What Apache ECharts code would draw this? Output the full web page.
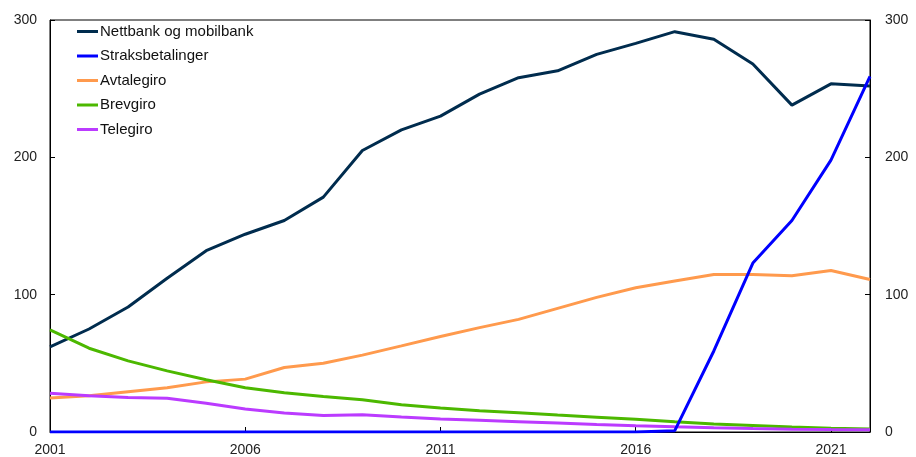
<!DOCTYPE html>
<html>
<head>
<meta charset="utf-8">
<script src="https://cdn.jsdelivr.net/npm/echarts@6/dist/echarts.min.js"></script>
<style>
  html, body { margin: 0; padding: 0; background: #fff; }
  #chart { width: 916px; height: 457px; }
</style>
</head>
<body>
<div id="chart"></div>
<script>
// years on the x axis
const years = ['2001', '2002', '2003', '2004', '2005', '2006', '2007', '2008', '2009', '2010', '2011',
  '2012', '2013', '2014', '2015', '2016', '2017', '2018', '2019', '2020', '2021', '2022'];
const yTicks = [0, 100, 200, 300];

// series values
const nettbank = [62, 75, 91, 112, 132, 144, 154, 171, 205, 220, 230, 246, 258, 263, 275, 283, 291.5, 286, 268, 238, 253.5, 252];
const straks = [0, 0, 0, 0, 0, 0, 0, 0, 0, 0, 0, 0, 0, 0, 0, 0, 1, 59, 123, 154, 198, 259];
const avtalegiro = [24.7, 26.4, 29.3, 32.2, 36.5, 38.5, 47, 50, 56, 62.7, 69.5, 76, 82, 90, 98, 105, 110, 114.7, 114.7, 113.8, 117.6, 111];
const brevgiro = [74.3, 61, 51.8, 44.5, 38, 32.2, 28.6, 25.9, 23.5, 19.8, 17.4, 15.5, 14, 12.3, 10.8, 9.2, 7.4, 5.8, 4.8, 3.6, 2.8, 2.2];
const telegiro = [28.3, 26.4, 25.2, 24.5, 21, 16.7, 13.8, 12.1, 12.6, 10.9, 9.4, 8.5, 7.5, 6.5, 5.5, 4.6, 3.8, 3.1, 2.5, 2, 1.8, 1.7];

const names = ['Nettbank og mobilbank', 'Straksbetalinger', 'Avtalegiro', 'Brevgiro', 'Telegiro'];
const colors = ['#002C4E', '#0000FF', '#FF9A4D', '#4CB800', '#BB3BFF'];
const values = [nettbank, straks, avtalegiro, brevgiro, telegiro];

const chart = echarts.init(document.getElementById('chart'));

const yAxisBase = {
  type: 'value',
  min: yTicks[0],
  max: yTicks[yTicks.length - 1],
  interval: 100,
  axisLine: { show: true, lineStyle: { color: '#000', width: 1 } },
  axisTick: { show: true, inside: true, length: 5, lineStyle: { color: '#000' } },
  splitLine: { show: false },
  axisLabel: { color: '#222', fontSize: 14, fontFamily: 'Liberation Sans, Arial, sans-serif' }
};

const option = {
  animation: false,
  color: colors,
  grid: {
    left: 50, right: 46, top: 20, bottom: 24,
    show: true, borderColor: '#000', borderWidth: 1, backgroundColor: 'transparent'
  },
  legend: {
    orient: 'vertical',
    left: 77,
    top: 24,
    padding: 0,
    icon: 'rect',
    itemWidth: 21,
    itemHeight: 3,
    itemGap: 9.5,
    textStyle: { color: '#111', fontSize: 15, lineHeight: 15, padding: [0, 0, 0, -3], fontFamily: 'Liberation Sans, Arial, sans-serif' },
    data: names
  },
  xAxis: {
    type: 'category',
    data: years,
    boundaryGap: false,
    axisLine: { show: true, lineStyle: { color: '#000', width: 1 } },
    axisTick: {
      show: true, inside: true, length: 5, lineStyle: { color: '#000' },
      interval: function (i) { return i % 5 === 0 && i > 0; }
    },
    axisLabel: {
      color: '#222', fontSize: 14, margin: 11, fontFamily: 'Liberation Sans, Arial, sans-serif',
      interval: function (i) { return i % 5 === 0; }
    }
  },
  yAxis: [
    Object.assign({}, yAxisBase, { position: 'left', axisLabel: Object.assign({}, yAxisBase.axisLabel, { margin: 13 }) }),
    Object.assign({}, yAxisBase, { position: 'right', axisLabel: Object.assign({}, yAxisBase.axisLabel, { margin: 15 }) })
  ],
  series: names.map(function (n, i) {
    return {
      name: n,
      type: 'line',
      data: values[i],
      symbol: 'none',
      lineStyle: { width: 3, color: colors[i] },
      itemStyle: { color: colors[i] },
      z: i === 1 ? 3 : 2
    };
  })
};

chart.setOption(option);
</script>
</body>
</html>
